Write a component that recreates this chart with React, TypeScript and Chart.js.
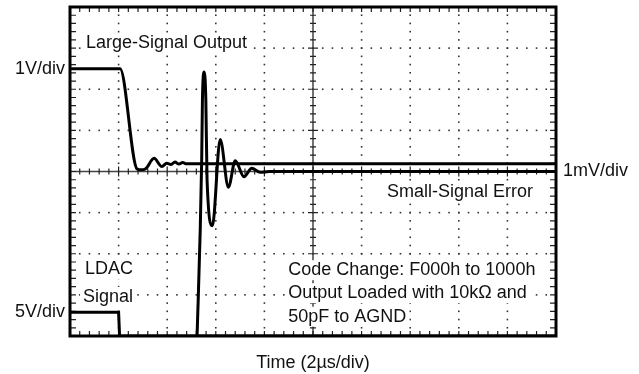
import React, { useEffect, useRef } from "react";
import { Chart, registerables } from "chart.js";

Chart.register(...registerables);

// Oscilloscope divisions: x 0..10 (2µs/div), y -4..4 (center = 0)
const largeX = [0, 1.03, 1.38, 1.46, 1.56, 1.73, 1.89, 1.99, 2.08, 2.16, 2.24, 2.32, 2.38, 10];
const largeY = [2.5, 2.5, 0.06, 0.04, 0.07, 0.32, 0.12, 0.2, 0.17, 0.23, 0.18, 0.22, 0.19, 0.19];

const errX = [2.6, 2.71, 2.725, 2.76, 2.795, 2.82, 2.93, 3.09, 3.26, 3.4, 3.58, 3.74, 3.91, 4.1, 10];
const errY = [-4.6, 0.3, 1.74, 2.42, 1.74, -0.2, -1.32, 0.78, -0.38, 0.26, -0.13, 0.08, -0.02, 0.0, 0.0];

const ldacX = [0, 1.0, 1.02, 10];
const ldacY = [-3.42, -3.42, -4, -4];

const xMin = 0, xMax = 10, yMin = -4, yMax = 4;
const minorStep = 0.2;

const FONT = '18px "Liberation Sans", Arial, Helvetica, sans-serif';

const pts = (xs: number[], ys: number[]) => xs.map((x, i) => ({ x, y: ys[i] }));

const scopePlugin = {
  id: "scope",
  beforeDatasetsDraw(chart: any) {
    const { ctx, chartArea: a, scales } = chart;
    const sx = scales.x, sy = scales.y;
    ctx.save();
    // dotted grid
    ctx.fillStyle = "#333";
    for (let i = 1; i < 10; i++) {
      if (i === 5) continue;
      const px = sx.getPixelForValue(i);
      for (let v = yMin; v <= yMax + 1e-9; v += minorStep) {
        const py = sy.getPixelForValue(v);
        ctx.fillRect(px - 0.8, py - 0.8, 1.6, 1.6);
      }
    }
    for (let i = -3; i <= 3; i++) {
      if (i === 0) continue;
      const py = sy.getPixelForValue(i);
      for (let v = xMin; v <= xMax + 1e-9; v += minorStep) {
        const px = sx.getPixelForValue(v);
        ctx.fillRect(px - 0.8, py - 0.8, 1.6, 1.6);
      }
    }
    // center axes
    ctx.strokeStyle = "#444";
    ctx.lineWidth = 1.5;
    const cy = sy.getPixelForValue(0);
    const cx = sx.getPixelForValue(5);
    ctx.beginPath();
    ctx.moveTo(a.left, cy);
    ctx.lineTo(a.right, cy);
    ctx.moveTo(cx, a.top);
    ctx.lineTo(cx, a.bottom);
    ctx.stroke();
    ctx.lineWidth = 1.2;
    ctx.beginPath();
    for (let v = xMin; v <= xMax + 1e-9; v += minorStep) {
      const px = sx.getPixelForValue(v);
      const major = Math.abs(v - Math.round(v)) < 1e-6;
      const l = major ? 5 : 3;
      ctx.moveTo(px, cy - l);
      ctx.lineTo(px, cy + l);
      ctx.moveTo(px, a.top);
      ctx.lineTo(px, a.top + 5);
      ctx.moveTo(px, a.bottom);
      ctx.lineTo(px, a.bottom - 5);
    }
    for (let v = yMin; v <= yMax + 1e-9; v += minorStep) {
      const py = sy.getPixelForValue(v);
      const major = Math.abs(v - Math.round(v)) < 1e-6;
      const l = major ? 5 : 3;
      ctx.moveTo(cx - l, py);
      ctx.lineTo(cx + l, py);
      ctx.moveTo(a.left, py);
      ctx.lineTo(a.left + 6, py);
      ctx.moveTo(a.right, py);
      ctx.lineTo(a.right - 6, py);
    }
    ctx.strokeStyle = "#222";
    ctx.stroke();

    // labels with white backgrounds inside the plot
    ctx.font = FONT;
    ctx.textBaseline = "middle";
    const label = (t: string, x: number, y: number, align: "left" | "right" = "left") => {
      const w = ctx.measureText(t).width;
      const left = align === "left" ? x : x - w;
      ctx.fillStyle = "#fff";
      ctx.fillRect(left - 3, y - 10, w + 6, 20);
      ctx.fillStyle = "#111";
      ctx.textAlign = "left";
      ctx.fillText(t, left, y);
    };
    label("Large-Signal Output", a.left + 16, a.top + 36);
    label("Small-Signal Error", a.right - 23, sy.getPixelForValue(-0.49), "right");
    label("LDAC", a.left + 15, sy.getPixelForValue(-2.37));
    label("Signal", a.left + 13, sy.getPixelForValue(-3.05));
    const codeLeft = sx.getPixelForValue(4.49);
    label("Code Change: F000h to 1000h", codeLeft, sy.getPixelForValue(-2.4));
    label("Output Loaded with 10k\u03A9 and", codeLeft, sy.getPixelForValue(-2.96));
    label("50pF to AGND", codeLeft, sy.getPixelForValue(-3.53));
    ctx.restore();
  },
  afterDatasetsDraw(chart: any) {
    const { ctx, chartArea: a, scales } = chart;
    const sx = scales.x, sy = scales.y;
    ctx.save();
    ctx.strokeStyle = "#000";
    ctx.lineWidth = 3;
    ctx.strokeRect(a.left, a.top, a.right - a.left, a.bottom - a.top);
    ctx.font = FONT;
    ctx.fillStyle = "#111";
    ctx.textBaseline = "middle";
    ctx.textAlign = "right";
    ctx.fillText("1V/div", a.left - 5, sy.getPixelForValue(2.5));
    ctx.fillText("5V/div", a.left - 5, sy.getPixelForValue(-3.42));
    ctx.textAlign = "left";
    ctx.fillText("1mV/div", a.right + 7, sy.getPixelForValue(0));
    ctx.textAlign = "center";
    ctx.fillText("Time (2\u00B5s/div)", sx.getPixelForValue(5), a.bottom + 27);
    ctx.restore();
  },
};

export default function App() {
  const ref = useRef<HTMLCanvasElement | null>(null);
  useEffect(() => {
    if (!ref.current) return;
    const common = {
      borderColor: "#000",
      borderWidth: 3,
      pointRadius: 0,
      fill: false,
      cubicInterpolationMode: "monotone" as const,
    };
    const chart = new Chart(ref.current, {
      type: "line",
      data: {
        datasets: [
          { ...common, label: "Large-Signal Output", data: pts(largeX, largeY) },
          { ...common, label: "Small-Signal Error", data: pts(errX, errY) },
          { ...common, label: "LDAC Signal", data: pts(ldacX, ldacY), cubicInterpolationMode: "default", tension: 0 },
        ],
      },
      options: {
        animation: false,
        responsive: false,
        devicePixelRatio: 1,
        layout: { padding: { left: 70, right: 83, top: 7, bottom: 38 } },
        scales: {
          x: { type: "linear", min: xMin, max: xMax, display: false },
          y: { type: "linear", min: yMin, max: yMax, display: false },
        },
        plugins: { legend: { display: false }, tooltip: { enabled: false } },
      },
      plugins: [scopePlugin],
    });
    return () => chart.destroy();
  }, []);
  return (
    <div style={{ position: "fixed", left: 0, top: 0, width: 639, height: 374, background: "#fff" }}>
      <canvas ref={ref} width={639} height={374} style={{ width: 639, height: 374, display: "block" }} />
    </div>
  );
}
